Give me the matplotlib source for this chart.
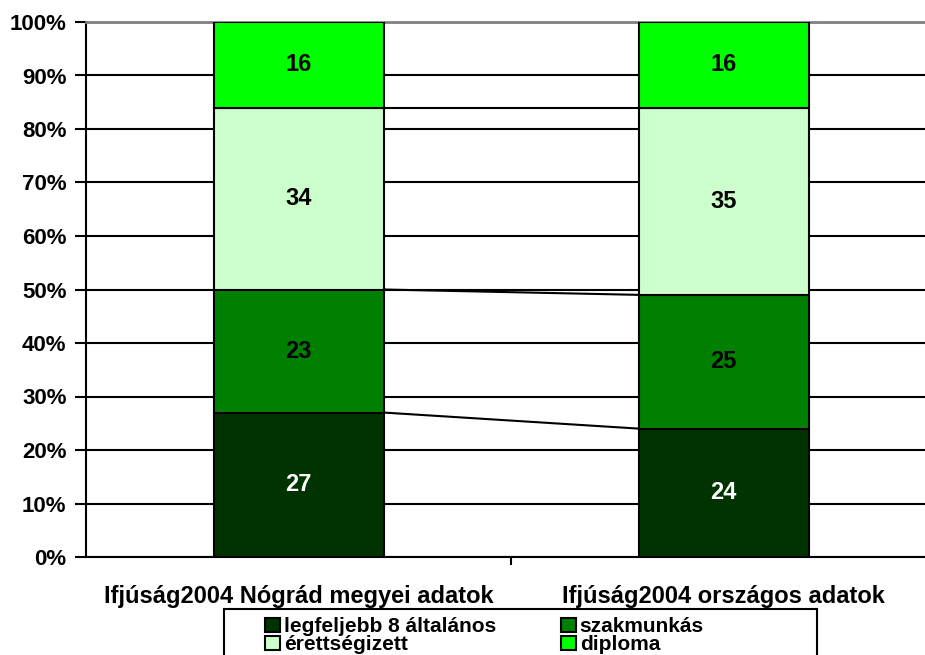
import matplotlib.pyplot as plt
from matplotlib.patches import Rectangle
import numpy as np

plt.rcParams['font.family'] = ['Liberation Sans', 'DejaVu Sans']
plt.rcParams['font.weight'] = 'bold'

kategoriak = ['Ifjúság2004 Nógrád megyei adatok', 'Ifjúság2004 országos adatok']
sorozatok = ['legfeljebb 8 általános', 'szakmunkás', 'érettségizett', 'diploma']
legfeljebb8 = [27, 24]
szakmunkas = [23, 25]
erettsegi = [34, 35]
diploma = [16, 16]
szinek = ['#003300', '#008000', '#CCFFCC', '#00FF00']
cimke_szin = ['white', 'black', 'black', 'black']

adatok = [legfeljebb8, szakmunkas, erettsegi, diploma]

W, H = 925, 655
fig = plt.figure(figsize=(W / 100, H / 100), dpi=100)
ax = fig.add_axes([86 / W, 98 / H, 850 / W, 535 / H])

x = np.arange(len(kategoriak))
w = 0.4
alap = np.zeros(len(kategoriak))
for i, (nev, ertek) in enumerate(zip(sorozatok, adatok)):
    ertek = np.array(ertek, dtype=float)
    ax.bar(x, ertek, w, bottom=alap, color=szinek[i], edgecolor='black',
           linewidth=1.5, label=nev, zorder=3)
    for j in range(len(x)):
        ax.text(x[j], alap[j] + ertek[j] / 2, str(int(ertek[j])), ha='center',
                va='center', fontsize=17, fontweight='bold', color=cimke_szin[i], zorder=4)
    teteje = alap + ertek
    # osszekoto vonalak a ket oszlop kozott
    if i < len(adatok) - 1:
        ax.plot([x[0] + w / 2, x[1] - w / 2], [teteje[0], teteje[1]],
                color='black', linewidth=1.5, zorder=2)
    alap = teteje

ax.set_xlim(-0.5, 1.5)
ax.set_ylim(0, 100)
ax.set_yticks(np.arange(0, 101, 10))
ax.set_yticklabels([f'{v}%' for v in range(0, 101, 10)], fontsize=16, fontweight='bold')
ax.yaxis.grid(True, color='black', linewidth=1.5, zorder=0)
ax.set_axisbelow(True)

ax.set_xticks(x)
ax.set_xticklabels(kategoriak, fontsize=17, fontweight='bold')
ax.tick_params(axis='x', length=0, pad=20)
ax.set_xticks([0.5], minor=True)
ax.tick_params(axis='x', which='minor', length=6, width=1.5, direction='out')
ax.tick_params(axis='y', length=8, width=1.5, direction='out', pad=6)

ax.spines['left'].set_linewidth(1.5)
ax.spines['bottom'].set_linewidth(1.5)
ax.spines['right'].set_visible(False)
ax.spines['top'].set_color('#808080')
ax.spines['top'].set_linewidth(2)

# jelmagyarazat: sorok szerint rendezve
h, l = ax.get_legend_handles_labels()
sorrend = [0, 2, 1, 3]
leg = fig.legend([h[k] for k in sorrend], [l[k] for k in sorrend],
                 loc='upper left', bbox_to_anchor=(255 / W, 1 - 607 / H), ncol=2,
                 frameon=False, borderpad=0,
                 handlelength=0.7, handleheight=0.7, handletextpad=0.2,
                 columnspacing=3.1, labelspacing=-0.05,
                 prop={'weight': 'bold', 'size': 15})
fig.patches.append(Rectangle((224 / W, -0.01), (817 - 224) / W, 0.01 + (655 - 609) / H,
                             transform=fig.transFigure, fill=False,
                             edgecolor='black', linewidth=1.5))

fig.savefig('out.png', dpi=100)
